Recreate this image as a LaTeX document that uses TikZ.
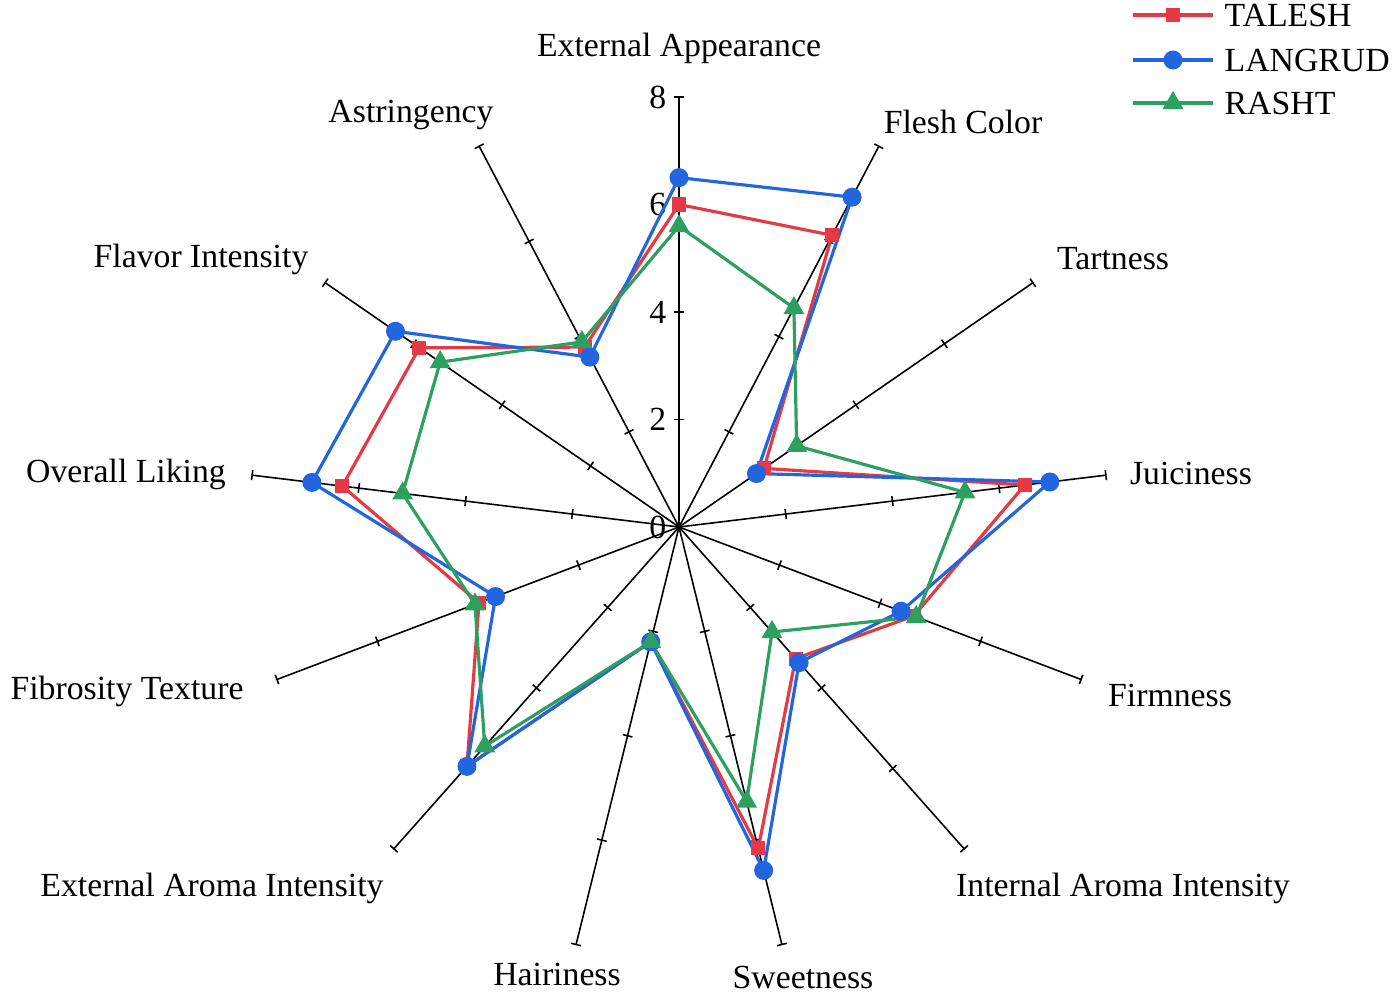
\documentclass[tikz,border=0pt]{standalone}
\usepackage{fontspec}
\setmainfont{Liberation Serif}
\usetikzlibrary{shapes.geometric}
\definecolor{cT}{RGB}{229,57,70}
\definecolor{cL}{RGB}{33,102,222}
\definecolor{cR}{RGB}{44,160,95}
\begin{document}
\begin{tikzpicture}[x=0.01cm,y=-0.01cm,
  lab/.style={font=\fontsize{9.6}{11}\selectfont, inner sep=0pt},
  axisline/.style={line width=0.45pt, black},
  ser/.style={line width=0.9pt},
  sq/.style={fill=cT, draw=none, minimum size=0.14cm, inner sep=0pt, rectangle},
  ci/.style={fill=cL, draw=none, minimum size=0.19cm, inner sep=0pt, circle},
  tri/.style={fill=cR, draw=none, regular polygon, regular polygon sides=3, minimum size=0.24cm, inner sep=0pt}]
\useasboundingbox (0,0) rectangle (1400,994);
\def\u{53.75}
\coordinate (O) at (679,527);
% axes
\foreach \i in {0,...,12}{
  \pgfmathsetmacro{\th}{\i*360/13}
  \coordinate (E\i) at ({679+8*\u*sin(\th)},{527-8*\u*cos(\th)});
  \draw[axisline] (O) -- (E\i);
  \foreach \k in {2,4,6,8}{
    \draw[axisline] ({679+\k*\u*sin(\th)-5*cos(\th)},{527-\k*\u*cos(\th)-5*sin(\th)}) --
                    ({679+\k*\u*sin(\th)+5*cos(\th)},{527-\k*\u*cos(\th)+5*sin(\th)});
  }
}
\foreach \k in {0,2,4,6,8}{
  \node[lab, anchor=east] (n\k) at (667,{527-\k*\u}) {\k};
}
% labels
\node[lab] (l0) at (679,48) {External Appearance};
\node[lab] (l1) at (963,122) {Flesh Color};
\node[lab] (l2) at (1113,259) {Tartness};
\node[lab] (l3) at (1191,473) {Juiciness};
\node[lab] (l4) at (1170,695) {Firmness};
\node[lab] (l5) at (1123,888) {Internal Aroma Intensity};
\node[lab] (l6) at (803,977) {Sweetness};
\node[lab] (l7) at (557,974) {Hairiness};
\node[lab] (l8) at (212,888) {External Aroma Intensity};
\node[lab] (l9) at (127,691) {Fibrosity Texture};
\node[lab] (l10) at (126,474) {Overall Liking};
\node[lab] (l11) at (201,259) {Flavor Intensity};
\node[lab] (l12) at (411,115) {Astringency};
% data
\foreach \v [count=\j from 0] in {6.0,6.13,1.92,6.48,4.67,3.27,6.16,2.2,5.95,3.98,6.31,5.87,3.78}{
  \pgfmathsetmacro{\th}{\j*360/13}
  \coordinate (T\j) at ({679+\v*\u*sin(\th)},{527-\v*\u*cos(\th)});
}
\foreach \v [count=\j from 0] in {6.5,6.93,1.75,6.95,4.42,3.37,6.58,2.2,5.95,3.65,6.88,6.41,3.57}{
  \pgfmathsetmacro{\th}{\j*360/13}
  \coordinate (L\j) at ({679+\v*\u*sin(\th)},{527-\v*\u*cos(\th)});
}
\foreach \v [count=\j from 0] in {5.6,4.6,2.66,5.36,4.72,2.61,5.26,2.2,5.45,4.06,5.18,5.4,3.89}{
  \pgfmathsetmacro{\th}{\j*360/13}
  \coordinate (R\j) at ({679+\v*\u*sin(\th)},{527-\v*\u*cos(\th)});
}
\draw[ser,cT] (T0) -- (T1) -- (T2) -- (T3) -- (T4) -- (T5) -- (T6) -- (T7) -- (T8) -- (T9) -- (T10) -- (T11) -- (T12) -- cycle;
\draw[ser,cL] (L0) -- (L1) -- (L2) -- (L3) -- (L4) -- (L5) -- (L6) -- (L7) -- (L8) -- (L9) -- (L10) -- (L11) -- (L12) -- cycle;
\draw[ser,cR] (R0) -- (R1) -- (R2) -- (R3) -- (R4) -- (R5) -- (R6) -- (R7) -- (R8) -- (R9) -- (R10) -- (R11) -- (R12) -- cycle;
\foreach \j in {0,...,12}{
  \node[sq] (mT\j) at (T\j) {};
  \node[ci] (mL\j) at (L\j) {};
  \node[tri] (mR\j) at (R\j) {};
}
% legend
\coordinate (a1) at (1133,15); \coordinate (b1) at (1213,15);
\coordinate (a2) at (1133,60); \coordinate (b2) at (1213,60);
\coordinate (a3) at (1133,103); \coordinate (b3) at (1213,103);
\draw[ser,cT] (a1) -- (b1); \node[sq] (g1) at (1173,15) {};
\draw[ser,cL] (a2) -- (b2); \node[ci] (g2) at (1173,60) {};
\draw[ser,cR] (a3) -- (b3); \node[tri] (g3) at (1173,103) {};
\node[lab, anchor=west] (t1) at (1224,15) {TALESH};
\node[lab, anchor=west] (t2) at (1224,60) {LANGRUD};
\node[lab, anchor=west] (t3) at (1224,103) {RASHT};
\end{tikzpicture}
\end{document}
